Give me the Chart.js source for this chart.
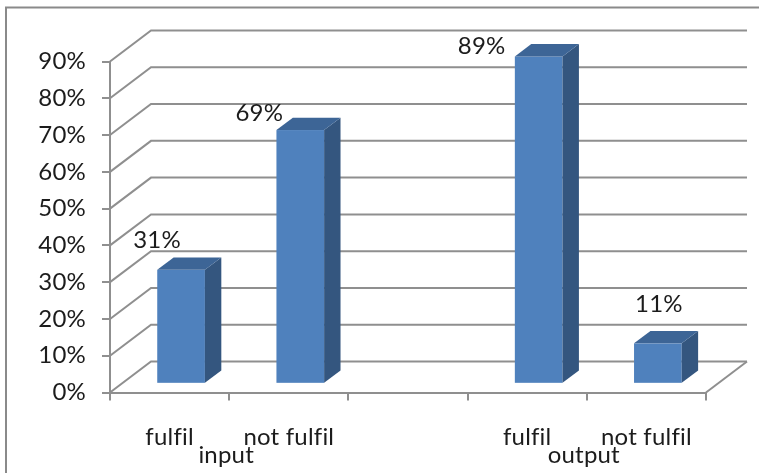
<!DOCTYPE html>
<html>
<head>
<meta charset="utf-8">
<script src="https://cdn.jsdelivr.net/npm/chart.js@4/dist/chart.umd.min.js"></script>
<style>
  html, body { margin: 0; padding: 0; background: #ffffff; }
  #wrap { width: 759px; height: 473px; }
</style>
</head>
<body>
<div id="wrap"><canvas id="c" width="759" height="473"></canvas></div>
<script>
// Category labels along the floor (third slot is the gap between groups)
const categories = ['fulfil', 'not fulfil', '', 'fulfil', 'not fulfil'];
// Group captions and the category slots they span
const groupNames = ['input', 'output'];
const groupSpans = [[0, 1], [3, 4]];
// Share of each category, in percent
const shares = [31, 69, null, 89, 11];
// Value-axis range and step, in percent
const yMin = 0, yMax = 90, yStep = 10;

// Where each value label sits relative to the top-front of its column (px)
const labelNudge = [[-24, -30], [-41, -17], null, [-57, -10], [1, -39]];

const FONT = { family: 'Lato, "Open Sans", "Liberation Sans", sans-serif', size: 24 };
const TEXT = '#1c1c1c';
const GRID = '#8f8f8f';
const FRONT = '#4f81bd', SIDE = '#34567f', TOP = '#3d6596';

// Depth of the 3-D floor, and where the columns sit inside it
const DEPTH_X = 41, DEPTH_Y = -31;
const COL_OFFSET = 0.28, COL_DEPTH = 0.40;

const frame3d = {
  id: 'frame3d',
  beforeDraw(chart) {
    const c = chart.ctx;
    // a hair of tracking keeps "fi" from turning into a ligature
    if ('letterSpacing' in c) c.letterSpacing = '0.2px';
    c.save();
    c.fillStyle = '#ffffff';
    c.fillRect(0, 0, chart.width, chart.height);
    // outer frame (runs off the right and bottom edges)
    c.strokeStyle = '#8a8a8a';
    c.lineWidth = 2;
    c.beginPath();
    c.moveTo(6, chart.height + 2);
    c.lineTo(6, 7.5);
    c.lineTo(chart.width + 2, 7.5);
    c.stroke();
    c.restore();
  },
  beforeDatasetsDraw(chart) {
    const c = chart.ctx, a = chart.chartArea, y = chart.scales.y;
    c.save();
    c.strokeStyle = GRID;
    c.lineWidth = 2;
    c.lineCap = 'butt';
    y.ticks.forEach(t => {
      const py = y.getPixelForValue(t.value);
      c.beginPath();
      c.moveTo(a.left, py);
      c.lineTo(a.left + DEPTH_X, py + DEPTH_Y);
      c.lineTo(a.right + DEPTH_X, py + DEPTH_Y);
      c.stroke();
    });
    // right edge of the floor
    const by = y.getPixelForValue(yMin);
    c.beginPath();
    c.moveTo(a.right, by);
    c.lineTo(a.right + DEPTH_X, by + DEPTH_Y);
    c.stroke();
    c.restore();
  },
  afterDatasetsDraw(chart) {
    const c = chart.ctx;
    const meta = chart.getDatasetMeta(0);
    const ox = DEPTH_X * COL_OFFSET, oy = DEPTH_Y * COL_OFFSET;
    const dx = DEPTH_X * COL_DEPTH, dy = DEPTH_Y * COL_DEPTH;
    c.save();
    meta.data.forEach((bar, i) => {
      if (shares[i] == null) return;
      const p = bar.getProps(['x', 'y', 'base', 'width'], true);
      const x0 = p.x - p.width / 2 + ox, x1 = p.x + p.width / 2 + ox;
      const top = p.y + oy, bot = p.base + oy;
      // front face
      c.fillStyle = FRONT;
      c.fillRect(x0, top, x1 - x0, bot - top);
      // side face
      c.fillStyle = SIDE;
      c.beginPath();
      c.moveTo(x1, top); c.lineTo(x1 + dx, top + dy);
      c.lineTo(x1 + dx, bot + dy); c.lineTo(x1, bot);
      c.closePath(); c.fill();
      // top face
      c.fillStyle = TOP;
      c.beginPath();
      c.moveTo(x0, top); c.lineTo(x1, top);
      c.lineTo(x1 + dx, top + dy); c.lineTo(x0 + dx, top + dy);
      c.closePath(); c.fill();
      // value label
      const n = labelNudge[i];
      c.fillStyle = TEXT;
      c.font = `${FONT.size}px ${FONT.family}`;
      c.textAlign = 'center';
      c.textBaseline = 'middle';
      c.fillText(shares[i] + '%', (x0 + x1) / 2 + n[0], top + n[1]);
    });
    c.restore();
  },
  afterDraw(chart) {
    const c = chart.ctx, x = chart.scales.x;
    c.save();
    c.fillStyle = TEXT;
    c.font = `${FONT.size}px ${FONT.family}`;
    c.textAlign = 'center';
    c.textBaseline = 'alphabetic';
    groupNames.forEach((g, i) => {
      const [from, to] = groupSpans[i];
      const cx = (x.getPixelForValue(from) + x.getPixelForValue(to)) / 2;
      c.fillText(g, cx - 3, 463);
    });
    c.restore();
  }
};

new Chart(document.getElementById('c'), {
  type: 'bar',
  data: {
    labels: categories,
    datasets: [{
      data: shares,
      backgroundColor: 'rgba(0,0,0,0)',
      borderWidth: 0,
      barPercentage: 0.4,
      categoryPercentage: 1.0
    }]
  },
  options: {
    responsive: false,
    animation: false,
    devicePixelRatio: 1,
    layout: { padding: { left: 0, right: 53, top: 61.5, bottom: 0 } },
    plugins: { legend: { display: false }, tooltip: { enabled: false } },
    scales: {
      x: {
        grid: { offset: true, drawOnChartArea: false, tickLength: 8, color: GRID, lineWidth: 2 },
        border: { color: GRID, width: 2 },
        ticks: { font: FONT, color: TEXT, padding: 22, maxRotation: 0, autoSkip: false },
        afterFit(s) { s.height = 80.5; }
      },
      y: {
        min: yMin, max: yMax,
        grid: { drawOnChartArea: false, tickLength: 8, color: GRID, lineWidth: 2 },
        border: { color: GRID, width: 2 },
        ticks: { stepSize: yStep, font: FONT, color: TEXT, padding: 16, callback: v => v + '%' },
        afterFit(s) { s.width = 110; }
      }
    }
  },
  plugins: [frame3d]
});
</script>
</body>
</html>
